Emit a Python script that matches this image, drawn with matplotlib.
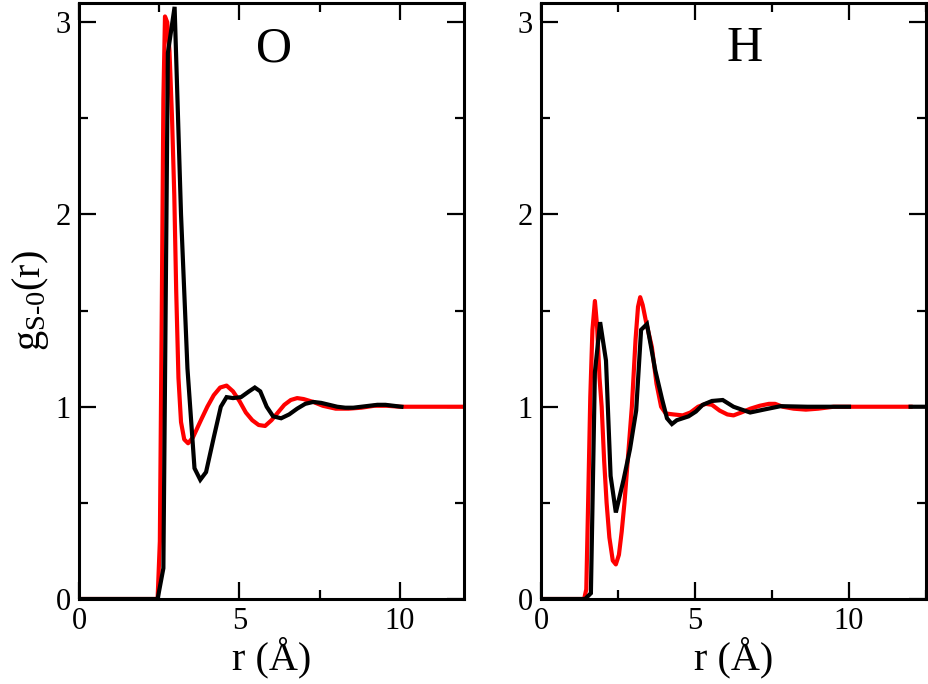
import numpy as np
import matplotlib
matplotlib.use("Agg")
import matplotlib.pyplot as plt
from matplotlib.ticker import MultipleLocator

plt.rcParams["font.family"] = ["Liberation Serif", "DejaVu Serif"]
plt.rcParams["mathtext.fontset"] = "custom"
plt.rcParams["mathtext.rm"] = "Liberation Serif"
plt.rcParams["mathtext.it"] = "Liberation Serif"

# O panel
red_o_x = [0, 2.45, 2.52, 2.58, 2.63, 2.68, 2.75, 2.82, 2.9, 2.97, 3.03, 3.1, 3.18, 3.28, 3.4,
           3.55, 3.8, 4.0, 4.2, 4.4, 4.6, 4.8, 5.0, 5.2, 5.4, 5.6, 5.8, 6.0, 6.2, 6.4,
           6.6, 6.8, 7.0, 7.3, 7.6, 8.0, 8.4, 8.8, 9.2, 9.6, 10.0, 10.5, 11.0, 11.5, 12.0]
red_o_y = [0, 0, 0.3, 1.5, 2.6, 3.03, 3.0, 2.85, 2.5, 2.1, 1.6, 1.15, 0.92, 0.83, 0.81,
           0.84, 0.93, 1.0, 1.06, 1.10, 1.11, 1.08, 1.03, 0.97, 0.93, 0.905, 0.90, 0.93, 0.97, 1.01,
           1.035, 1.045, 1.04, 1.025, 1.005, 0.99, 0.99, 0.995, 1.005, 1.005, 1.0, 1.0, 1.0, 1.0, 1.0]
black_o_x = [0, 2.45, 2.63, 2.77, 2.98, 3.18, 3.38, 3.6, 3.78, 3.96, 4.2, 4.42, 4.6, 4.8,
             5.05, 5.3, 5.48, 5.65, 5.85, 6.05, 6.3, 6.55, 6.8, 7.05, 7.3, 7.55, 7.8,
             8.05, 8.3, 8.55, 8.8, 9.05, 9.3, 9.55, 9.8, 10.05]
black_o_y = [0, 0, 0.16, 2.84, 3.08, 2.0, 1.2, 0.68, 0.62, 0.66, 0.84, 1.0, 1.05, 1.045,
             1.05, 1.08, 1.1, 1.08, 1.0, 0.95, 0.94, 0.96, 0.99, 1.015, 1.025, 1.02, 1.01,
             1.0, 0.995, 0.995, 1.0, 1.005, 1.01, 1.01, 1.005, 1.0]

# H panel
red_h_x = [0, 1.40, 1.47, 1.53, 1.60, 1.67, 1.75, 1.82, 1.90, 1.97, 2.05, 2.13, 2.22, 2.33,
           2.43, 2.53, 2.62, 2.71, 2.83, 2.95, 3.07, 3.15, 3.22, 3.30, 3.40, 3.50, 3.6, 3.75,
           3.9, 4.05, 4.3, 4.6, 4.85, 5.1, 5.35, 5.55, 5.8, 6.05, 6.25, 6.5, 6.8, 7.1, 7.4,
           7.6, 7.85, 8.2, 8.6, 9.0, 9.5, 10.0, 11.0, 12.0]
red_h_y = [0, 0, 0.05, 0.5, 1.05, 1.4, 1.55, 1.42, 1.15, 1.0, 0.72, 0.5, 0.32, 0.2,
           0.18, 0.23, 0.35, 0.5, 0.75, 1.0, 1.35, 1.52, 1.57, 1.53, 1.45, 1.38, 1.31, 1.12,
           1.0, 0.965, 0.96, 0.955, 0.97, 1.0, 1.015, 1.01, 0.98, 0.96, 0.955, 0.97, 0.99, 1.005, 1.015,
           1.015, 1.0, 0.99, 0.985, 0.99, 1.0, 1.0, 1.0, 1.0]
black_h_x = [0, 1.43, 1.62, 1.75, 1.92, 2.11, 2.26, 2.43, 2.68, 2.89, 3.09, 3.25, 3.44,
             3.71, 3.93, 4.09, 4.25, 4.41, 4.79, 5.03, 5.25, 5.55, 5.9, 6.25, 6.79, 7.23,
             7.78, 8.65, 10.0, np.nan, 12.0, 12.6]
black_h_y = [0, 0, 0.03, 1.18, 1.44, 1.24, 0.64, 0.45, 0.62, 0.78, 0.98, 1.40, 1.43,
             1.19, 1.04, 0.94, 0.91, 0.93, 0.95, 0.975, 1.01, 1.03, 1.035, 1.0, 0.97, 0.985,
             1.003, 1.0, 1.0, np.nan, 1.0, 1.0]

panels = [("O", red_o_x, red_o_y, black_o_x, black_o_y, 12.0),
          ("H", red_h_x, red_h_y, black_h_x, black_h_y, 12.5)]

fig = plt.figure(figsize=(9.29, 6.84), dpi=100)
lefts = [79 / 929, 541 / 929]

for (name, rx, ry, bx, by, xmax), left in zip(panels, lefts):
    ax = fig.add_axes([left, 85 / 684, 385 / 929, 596 / 684])
    ax.plot(rx, ry, color="red", lw=3, solid_joinstyle="round")
    ax.plot(bx, by, color="black", lw=3, solid_joinstyle="miter")
    ax.set_xlim(0, xmax)
    ax.set_ylim(0, 3.1)
    ax.xaxis.set_major_locator(MultipleLocator(5))
    ax.xaxis.set_minor_locator(MultipleLocator(2.5))
    ax.yaxis.set_major_locator(MultipleLocator(1))
    ax.yaxis.set_minor_locator(MultipleLocator(0.5))
    ax.tick_params(which="both", direction="in", top=True, right=True, width=1.6,
                   labelsize=22, pad=6)
    ax.tick_params(which="major", length=12)
    ax.tick_params(which="minor", length=6.5)
    for s in ax.spines.values():
        s.set_linewidth(2.2)
    ax.set_xlabel("r (Å)", fontsize=29, labelpad=0)
    ax.text(6.07 if name == "O" else 6.6, 2.86, name, fontsize=36,
            ha="center", va="center")
    if name == "O":
        ax.set_ylabel(r"$\mathrm{g_{S\text{-}0}(r)}$", fontsize=29, labelpad=3)

fig.savefig("out.png", dpi=100)
